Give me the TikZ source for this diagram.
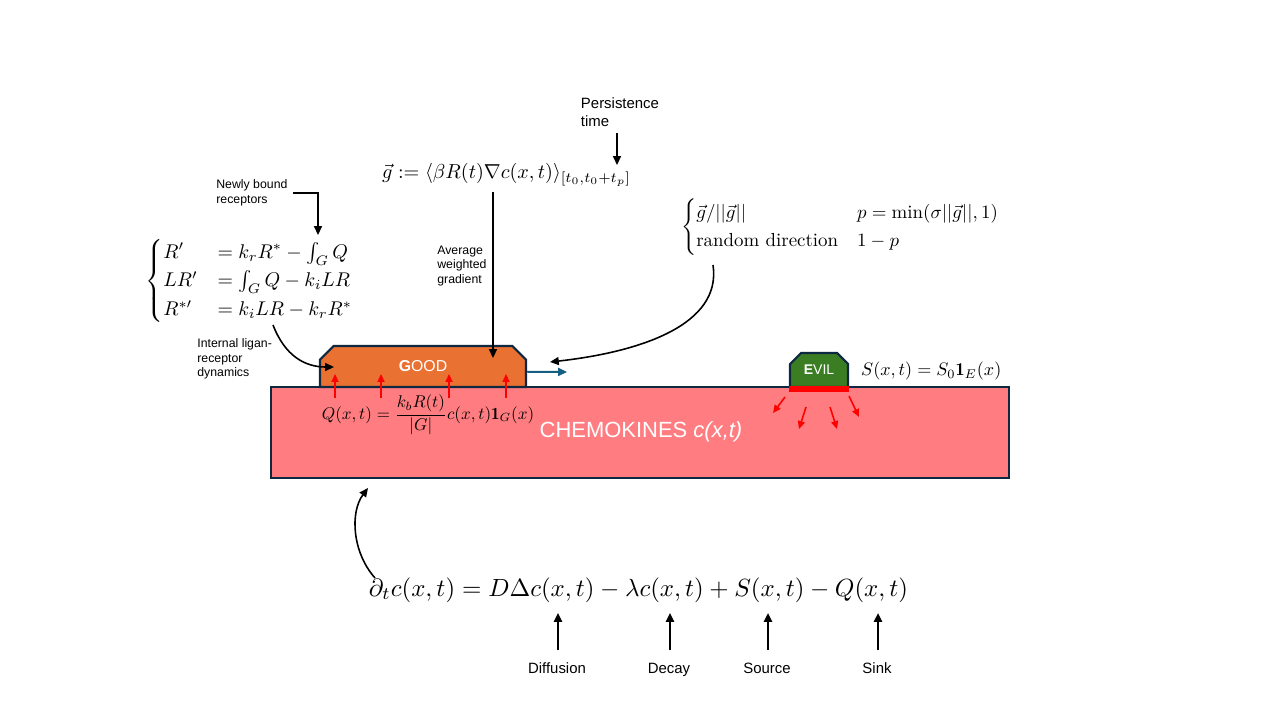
\documentclass[tikz,border=0pt]{standalone}
\usepackage{amsmath}
\usepackage{fontspec}
\newfontfamily\lab{Liberation Sans}
\usetikzlibrary{arrows.meta,shapes.misc}
\definecolor{pinkc}{HTML}{FF7C80}
\definecolor{orangec}{HTML}{E97132}
\definecolor{greenc}{HTML}{3B7D23}
\definecolor{edgec}{HTML}{0E2841}
\definecolor{bluec}{HTML}{156082}
\begin{document}
\begin{tikzpicture}[x=0.02cm,y=-0.02cm,
  cell/.style={draw=edgec, line width=1.2pt, inner sep=0pt},
  chamf/.style={chamfered rectangle, chamfered rectangle corners={north west,north east},
     chamfered rectangle xsep=4.5pt, chamfered rectangle ysep=4.5pt},
  arr/.style={line width=0.9pt, -{Triangle[length=5pt,width=4.5pt]}},
  redarr/.style={red, line width=0.9pt, -{Triangle[length=4.5pt,width=4pt]}},
  lbl/.style={font=\lab\fontsize{8.5}{10}\selectfont, align=center, inner sep=1pt, text height=1.6ex, text depth=0.45ex},
  small/.style={font=\lab\fontsize{7}{8.2}\selectfont, align=left, inner sep=0pt},
  mth/.style={inner sep=1pt}]
\useasboundingbox (0,0) rectangle (1280,720);

% chemokine domain
\node[cell, fill=pinkc, minimum width=14.76cm, minimum height=1.82cm] (chemo) at (640,432.5) {};
\node[font=\lab\fontsize{12.5}{15}\selectfont, text=white, inner sep=0pt] (chemtxt) at (641,432) {CHEMOKINES \textit{c(x,t)}};

% GOOD cell
\node[cell, chamf, fill=orangec, minimum width=4.12cm, minimum height=0.82cm,
      font=\lab\fontsize{9}{10}\selectfont, text=white] (good) at (423,366.5) {\textbf{G}OOD};

% EVIL cell
\node[cell, chamf, chamfered rectangle xsep=3.5pt, chamfered rectangle ysep=3.5pt,
      fill=greenc, minimum width=1.16cm, minimum height=0.68cm,
      font=\lab\fontsize{8}{9}\selectfont, text=white] (evil) at (819,370) {\textbf{E}VIL};
\node[fill=red, minimum width=1.2cm, minimum height=0.12cm, inner sep=0pt] (bar) at (819,389) {};

% sink arrows into GOOD
\foreach \x in {335,381,449,506} {
  \draw[redarr] (\x,398) -- (\x,374);
}
% source arrows from EVIL
\draw[redarr] (785,397) -- (773,413);
\draw[redarr] (806,407) -- (799,429);
\draw[redarr] (830,407) -- (837,429);
\draw[redarr] (849,396) -- (859,417);

% movement arrow
\coordinate (mv) at (567,372);
\draw[bluec, line width=1.1pt, -{Triangle[length=5pt,width=4.5pt]}] ([yshift=-3pt]good.east) -- (mv);

% sink equation
\node[mth] (qeq) at (428,415)
  {\scalebox{0.97}{$Q(x,t)=\dfrac{k_bR(t)}{|G|}c(x,t)\mathbf{1}_G(x)$}};

% source equation
\node[mth, anchor=west] (seq) at (859,371)
  {\scalebox{1.03}{$S(x,t)=S_0\mathbf{1}_E(x)$}};

% main PDE
\node[mth] (pde) at (638.5,590)
  {\scalebox{1.415}{$\partial_t c(x,t) = D\Delta c(x,t) - \lambda c(x,t) + S(x,t) - Q(x,t)$}};
\coordinate (pdestart) at (375,578);
\coordinate (chemoin) at (368,488);
\draw[arr] (pdestart) .. controls (352,552) and (350,512) .. (chemoin);

\node[lbl] (diff) at (557,669) {Diffusion};
\node[lbl] (dec) at (669,669) {Decay};
\node[lbl] (src) at (767,669) {Source};
\node[lbl] (snk) at (877,669) {Sink};
\coordinate (tdiff) at (558,613);
\coordinate (tdec) at (670,613);
\coordinate (tsrc) at (768,613);
\coordinate (tsnk) at (878,613);
\draw[arr, line width=1.2pt] (558,650) -- (tdiff);
\draw[arr, line width=1.2pt] (670,650) -- (tdec);
\draw[arr, line width=1.2pt] (768,650) -- (tsrc);
\draw[arr, line width=1.2pt] (878,650) -- (tsnk);

% gradient
\node[mth] (geq) at (506.5,175)
  {\scalebox{1.15}{$\vec g := \langle \beta R(t)\nabla c(x,t)\rangle_{[t_0,t_0+t_p]}$}};
\node[lbl, align=left, text height=, text depth=] (pers) at (620,112) {Persistence\\time};
\coordinate (ptip) at (617,165);
\draw[arr] (617,133) -- (ptip);
\coordinate (gtop) at (493,192);
\coordinate (gtip) at (493,358);
\draw[arr] (gtop) -- (gtip);
\node[small, anchor=west] (avg) at (437,266) {Average\\weighted\\gradient};

% receptor system
\node[mth] (sys) at (250,281)
  {\scalebox{1.13}{$\begin{cases} R' &= k_rR^* - \int_G Q\\ LR' &= \int_G Q - k_iLR\\ R^{*\prime} &= k_iLR - k_rR^*\end{cases}$}};
\node[small, anchor=west] (newly) at (216,193) {Newly bound\\receptors};
\coordinate (ntip) at (318,235);
\draw[arr] (293,193) -- (318,193) -- (ntip);
\node[small, anchor=west] (intl) at (197,359) {Internal ligan-\\receptor\\dynamics};
\coordinate (sysout) at (273,325);
\coordinate (goodin) at (334,367);
\draw[arr] (sysout) .. controls (285,356) and (305,367) .. (goodin);

% direction choice
\node[mth, anchor=west] (dir) at (679,227)
  {\scalebox{1.075}{$\begin{cases}\vec g/||\vec g|| & p=\min(\sigma||\vec g||,1)\\ \text{random direction} & 1-p\end{cases}$}};
\coordinate (dirout) at (713,265);
\coordinate (goodtop) at (550,362);
\draw[arr] (dirout) .. controls (722,325) and (640,352) .. (goodtop);
\end{tikzpicture}
\end{document}
